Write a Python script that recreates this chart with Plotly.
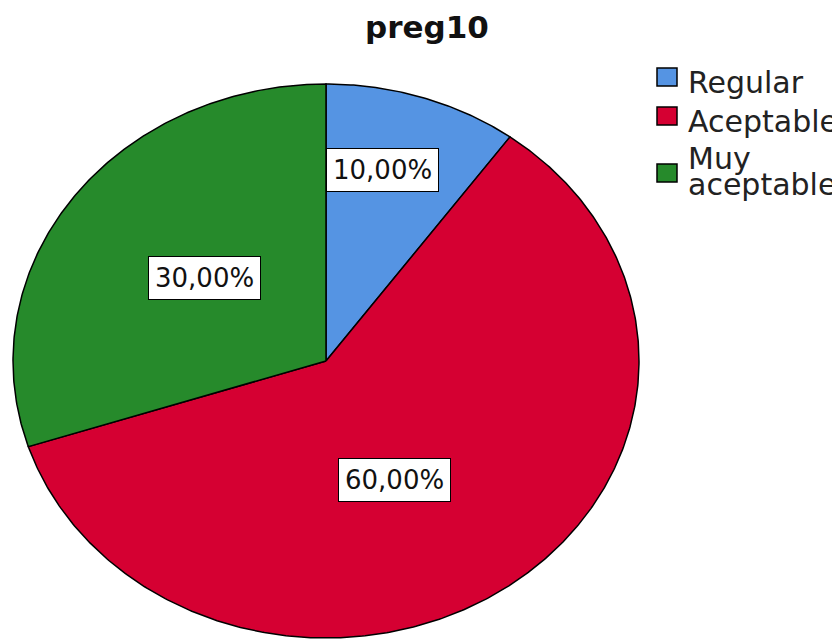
import numpy as np
import plotly.graph_objects as go

# ---- data ----
categories = ["Regular", "Aceptable", "Muy aceptable"]
percentages = [10.0, 60.0, 30.0]
label_texts = ["10,00%", "60,00%", "30,00%"]
legend_lines = [["Regular"], ["Aceptable"], ["Muy", "aceptable"]]
title_text = "preg10"

# ---- style / layout constants (pixel positions in the page) ----
colors = ["#5594E3", "#D50032", "#268A2B"]
PAGE_W, PAGE_H = 840, 639
OFF = 8                                  # default body margin of the html page
W, H = PAGE_W - OFF, PAGE_H - OFF
CX, CY, RX, RY = 326, 361, 313, 277      # ellipse centre / radii (page pixels)
label_px = [(382, 170), (394, 480), (204, 278)]
swatch_px = [(657, 68, 677, 86), (657, 107, 677, 125), (657, 164, 677, 182)]
legend_text_px = [[(686, 82)], [(686, 121)], [(686, 159), (686, 184)]]
FONT = "DejaVu Sans"


def dx(px):
    return (px - CX) / RX


def dy(py):
    return (CY - py) / RY


def paper_x(px):
    return (px - OFF) / W


def paper_y(py):
    return 1 - (py - OFF) / H


fig = go.Figure()

total = sum(percentages)
start = 90.0
for cat, val, col in zip(categories, percentages, colors):
    sweep = 360.0 * val / total
    n = max(int(sweep * 2), 4)
    theta = np.radians(np.linspace(start, start - sweep, n))
    xs = np.concatenate([[0.0], np.cos(theta), [0.0]])
    ys = np.concatenate([[0.0], np.sin(theta), [0.0]])
    fig.add_trace(go.Scatter(
        x=xs, y=ys, mode="lines", fill="toself", fillcolor=col,
        line=dict(color="black", width=1.5),
        name=cat, hoverinfo="name", showlegend=False,
    ))
    start -= sweep

annotations = []
for txt, (px, py) in zip(label_texts, label_px):
    annotations.append(dict(
        x=dx(px), y=dy(py), xref="x", yref="y", text=txt, showarrow=False,
        xanchor="center", yanchor="middle",
        font=dict(family=FONT, size=26, color="#111111"),
        bgcolor="white", bordercolor="black", borderwidth=1, borderpad=6,
    ))

annotations.append(dict(
    x=paper_x(427), y=paper_y(27), xref="paper", yref="paper",
    text="<b>" + title_text + "</b>", showarrow=False,
    xanchor="center", yanchor="middle",
    font=dict(family=FONT, size=31, color="#111111"),
))

shapes = []
for (x0, y0, x1, y1), col, lines, pos in zip(swatch_px, colors, legend_lines, legend_text_px):
    shapes.append(dict(
        type="rect", xref="paper", yref="paper",
        x0=paper_x(x0), x1=paper_x(x1), y0=paper_y(y1), y1=paper_y(y0),
        fillcolor=col, line=dict(color="black", width=1.5),
    ))
    for line_txt, (px, py) in zip(lines, pos):
        annotations.append(dict(
            x=paper_x(px), y=paper_y(py), xref="paper", yref="paper",
            text=line_txt, showarrow=False, xanchor="left", yanchor="middle",
            font=dict(family=FONT, size=30, color="#222222"),
        ))

# axis ranges chosen so the unit circle maps onto the reference ellipse
fig.update_layout(
    width=W, height=H,
    margin=dict(l=0, r=0, t=0, b=0),
    paper_bgcolor="white", plot_bgcolor="white",
    xaxis=dict(range=[dx(OFF), dx(PAGE_W)], visible=False, fixedrange=True),
    yaxis=dict(range=[dy(PAGE_H), dy(OFF)], visible=False, fixedrange=True),
    annotations=annotations, shapes=shapes,
    showlegend=False,
)

fig.write_html("out.html")
